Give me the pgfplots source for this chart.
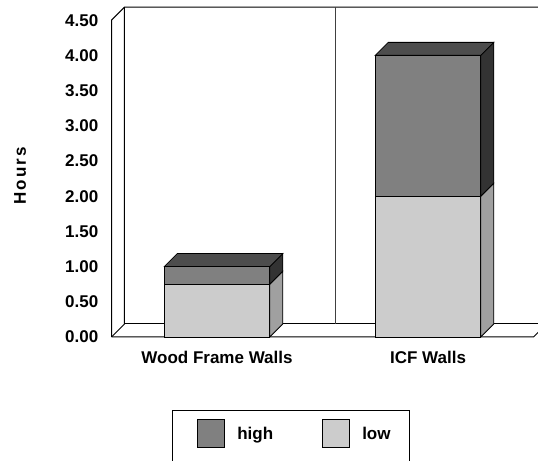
\documentclass[border=0pt]{standalone}
\usepackage{fontspec}
\setmainfont{Liberation Sans}
\usepackage{pgfplots}
\pgfplotsset{compat=1.18}
\definecolor{hifront}{HTML}{808080}
\definecolor{hitop}{HTML}{4D4D4D}
\definecolor{hiside}{HTML}{333333}
\definecolor{lofront}{HTML}{CCCCCC}
\definecolor{loside}{HTML}{A0A0A0}
\newcommand{\lbl}{\bfseries\fontsize{17}{20}\selectfont}
\pgfplotsset{frameline/.style={forget plot, stack plots=false, sharp plot, mark=none, draw=black, line width=1pt}}
\begin{document}
\begin{tikzpicture}
\begin{axis}[
  x=211pt, y=70.4pt,
  xmin=-0.5, xmax=1.5, ymin=0, ymax=4.5,
  clip=false,
  ybar stacked, bar width=0.5,
  reverse stacked plots=false,
  axis line style={draw=none},
  major tick style={draw=none},
  major tick length=0pt,
  xtick={0,1},
  xticklabels={Wood Frame Walls, ICF Walls},
  ytick={0,0.5,1,1.5,2,2.5,3,3.5,4,4.5},
  /pgf/number format/assume math mode=true,
  yticklabel style={/pgf/number format/fixed, /pgf/number format/fixed zerofill, /pgf/number format/precision=2,
    anchor=east, inner sep=0pt, xshift=-13pt},
  xticklabel style={anchor=base, inner sep=0pt, yshift=-26.6pt},
  tick label style={font=\lbl},
  ylabel={Hours},
  ylabel style={at={(axis description cs:-0.2168,0.508)}, anchor=center, inner sep=0pt, font=\lbl\addfontfeature{LetterSpace=12}},
  reverse legend,
  legend columns=2,
  legend style={at={(axis cs:-0.2133,-1.0369)}, anchor=north west, draw=black, line width=1pt,
    font=\lbl, inner xsep=18.7pt, inner ysep=9pt,
    nodes={inner sep=0pt, anchor=base west},
    /tikz/every odd column/.style={column sep=12pt},
    /tikz/every even column/.style={column sep=43pt}},
  legend image code/.code={\draw[#1, draw=black, line width=0.8pt] (0pt,-7.9pt) rectangle (27pt,20.1pt); \path (-6.3pt,0pt) (0pt,-30pt);},
]
% back wall and floor (drawn first, behind the bars)
\addplot[frameline] coordinates {(-0.5,0) (-0.5,4.5) (-0.4384,4.6847) (1.5616,4.6847)};
\addplot[frameline] coordinates {(-0.5,0) (-0.4384,0.1847) (-0.4384,4.6847)};
\addplot[frameline] coordinates {(-0.4384,0.1847) (1.5616,0.1847) (1.5616,4.6847)};
\addplot[frameline] coordinates {(-0.5,0) (1.5,0) (1.5616,0.1847)};
\addplot[frameline, draw=black!75] coordinates {(0.5616,0.1847) (0.5616,4.6847)};
% bars (front faces)
\addplot[fill=lofront, draw=black, line width=0.8pt] coordinates {(0,0.75) (1,2.0)};
\addlegendentry{low}
\addplot[fill=hifront, draw=black, line width=0.8pt] coordinates {(0,0.25) (1,2.0)};
\addlegendentry{high}
% 3D side and top faces
\addplot[forget plot, stack plots=false, sharp plot, mark=none, fill=loside, draw=black, line width=0.8pt]
  coordinates {(0.25,0) (0.3116,0.1847) (0.3116,0.9347) (0.25,0.75)} --cycle;
\addplot[forget plot, stack plots=false, sharp plot, mark=none, fill=hiside, draw=black, line width=0.8pt]
  coordinates {(0.25,0.75) (0.3116,0.9347) (0.3116,1.1847) (0.25,1.0)} --cycle;
\addplot[forget plot, stack plots=false, sharp plot, mark=none, fill=hitop, draw=black, line width=0.8pt]
  coordinates {(-0.25,1.0) (-0.1884,1.1847) (0.3116,1.1847) (0.25,1.0)} --cycle;
\addplot[forget plot, stack plots=false, sharp plot, mark=none, fill=loside, draw=black, line width=0.8pt]
  coordinates {(1.25,0) (1.3116,0.1847) (1.3116,2.1847) (1.25,2.0)} --cycle;
\addplot[forget plot, stack plots=false, sharp plot, mark=none, fill=hiside, draw=black, line width=0.8pt]
  coordinates {(1.25,2.0) (1.3116,2.1847) (1.3116,4.1847) (1.25,4.0)} --cycle;
\addplot[forget plot, stack plots=false, sharp plot, mark=none, fill=hitop, draw=black, line width=0.8pt]
  coordinates {(0.75,4.0) (0.8116,4.1847) (1.3116,4.1847) (1.25,4.0)} --cycle;
\coordinate (bbsw) at (axis cs:-1.02844,-1.76136);
\coordinate (bbne) at (axis cs:1.52133,4.78693);
\end{axis}
\pgfresetboundingbox
\useasboundingbox (bbsw) rectangle (bbne);
\end{tikzpicture}
\end{document}
